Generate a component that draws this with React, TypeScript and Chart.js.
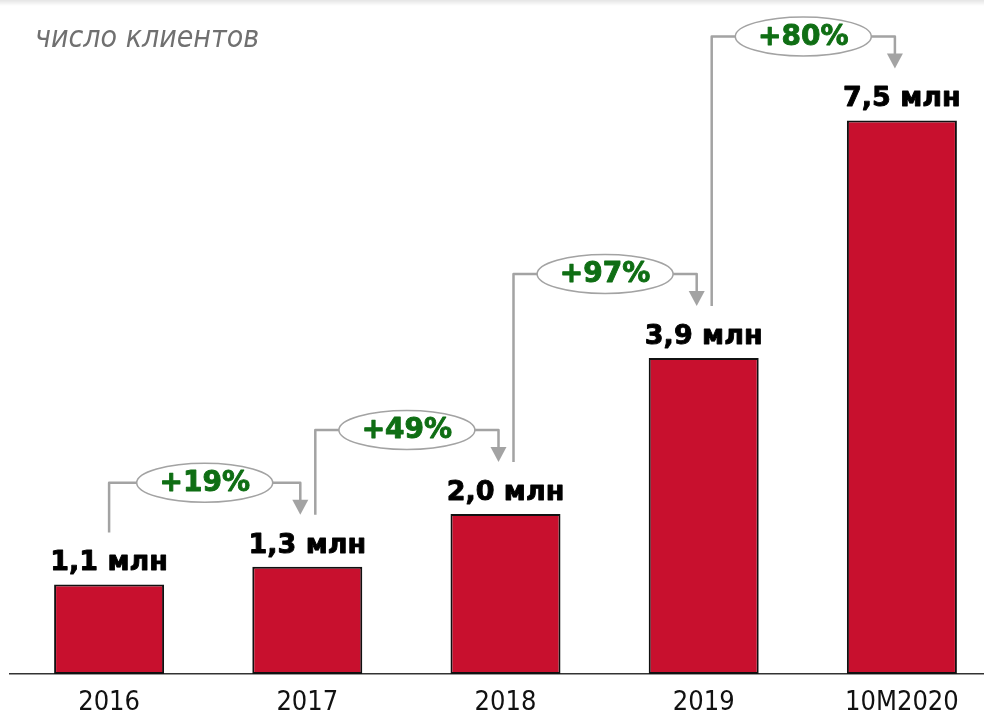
import React, { useEffect, useRef } from "react";
import { Chart, registerables } from "chart.js";

Chart.register(...registerables);

const TITLE = "число клиентов";
const categories = ["2016", "2017", "2018", "2019", "10M2020"];
const barValues = [1.12, 1.34, 2.0, 3.95, 6.92];
const valueLabels = ["1,1 млн", "1,3 млн", "2,0 млн", "3,9 млн", "7,5 млн"];
const growthLabels = ["+19%", "+49%", "+97%", "+80%"];

const Y_MAX = 8.425;
const BAR_RED = "#C8102E";
const GREEN = "#0F6E14";
const GRAY = "#A3A3A3";
const COND = "'DejaVu Sans Condensed', 'Liberation Sans', sans-serif";
const BOLD = "'DejaVu Sans', 'Liberation Sans', sans-serif";

function heavyText(ctx: CanvasRenderingContext2D, text: string, x: number, y: number, color: string) {
  ctx.fillStyle = color;
  ctx.strokeStyle = color;
  ctx.lineWidth = 0.9;
  ctx.lineJoin = "round";
  ctx.fillText(text, x, y);
  ctx.strokeText(text, x, y);
}

const overlayPlugin = {
  id: "overlay",
  afterDatasetsDraw(chart: any) {
    const ctx = chart.ctx as CanvasRenderingContext2D;
    const bars = chart.getDatasetMeta(0).data as any[];
    ctx.save();

    // title
    ctx.font = `italic 30px ${COND}`;
    ctx.fillStyle = "#707070";
    ctx.textAlign = "left";
    ctx.textBaseline = "alphabetic";
    ctx.fillText(TITLE, 35, 47);

    // value labels
    ctx.font = `bold 27px ${BOLD}`;
    ctx.textAlign = "center";
    bars.forEach((b, i) => {
      heavyText(ctx, valueLabels[i], b.x, b.y - 14, "#000");
    });

    // growth connectors
    for (let i = 0; i < growthLabels.length; i++) {
      const a = bars[i];
      const b = bars[i + 1];
      const x0 = a.x + (i === 0 ? 0 : 8);
      const y0 = a.y - 52;
      const x1 = b.x - 7;
      const yTip = b.y - 52;
      const yh = b.y - 84;

      ctx.strokeStyle = GRAY;
      ctx.lineWidth = 2.5;
      ctx.beginPath();
      ctx.moveTo(x0, y0);
      ctx.lineTo(x0, yh);
      ctx.lineTo(x1, yh);
      ctx.lineTo(x1, yTip - 12);
      ctx.stroke();

      ctx.fillStyle = GRAY;
      ctx.beginPath();
      ctx.moveTo(x1 - 8, yTip - 15);
      ctx.lineTo(x1 + 8, yTip - 15);
      ctx.lineTo(x1, yTip);
      ctx.closePath();
      ctx.fill();

      const cx = (x0 + x1) / 2;
      ctx.beginPath();
      ctx.ellipse(cx, yh, 68, 19.5, 0, 0, Math.PI * 2);
      ctx.fillStyle = "#fff";
      ctx.fill();
      ctx.lineWidth = 1.5;
      ctx.strokeStyle = GRAY;
      ctx.stroke();

      ctx.font = `bold 28px ${BOLD}`;
      ctx.textAlign = "center";
      ctx.textBaseline = "middle";
      heavyText(ctx, growthLabels[i], cx, yh + 1, GREEN);
      ctx.textBaseline = "alphabetic";
    }
    ctx.restore();
  },
};

export default function App() {
  const ref = useRef<HTMLCanvasElement>(null);

  useEffect(() => {
    if (!ref.current) return;
    const chart = new Chart(ref.current, {
      type: "bar",
      data: {
        labels: categories,
        datasets: [
          {
            data: barValues,
            backgroundColor: BAR_RED,
            borderColor: "#111",
            borderWidth: 2,
            borderSkipped: false,
            barPercentage: 0.555,
            categoryPercentage: 1,
          },
        ],
      },
      options: {
        animation: false,
        responsive: false,
        maintainAspectRatio: false,
        layout: { padding: { left: 10, right: 0, top: 0, bottom: 0 } },
        plugins: {
          legend: { display: false },
          tooltip: { enabled: false },
          title: { display: false },
        },
        scales: {
          x: {
            grid: { display: true, color: "rgba(0,0,0,0)", drawTicks: false },
            border: { display: true, color: "#333", width: 1.5 },
            ticks: {
              color: "#111",
              padding: 13,
              font: { family: COND, size: 27 },
            },
            afterFit: (scale: any) => {
              scale.height = 41;
            },
          },
          y: {
            display: false,
            min: 0,
            max: Y_MAX,
          },
        },
      },
      plugins: [overlayPlugin],
    });
    return () => chart.destroy();
  }, []);

  return (
    <div
      style={{
        position: "fixed",
        left: 0,
        top: 0,
        width: 984,
        height: 715,
        overflow: "hidden",
        background: "#fff",
      }}
    >
      <div
        style={{
          position: "absolute",
          left: 0,
          top: 0,
          width: 984,
          height: 6,
          background: "linear-gradient(to bottom, rgba(0,0,0,0.10), rgba(0,0,0,0))",
          zIndex: 1,
        }}
      />
      <canvas ref={ref} width={1001} height={715} style={{ width: 1001, height: 715, display: "block" }} />
    </div>
  );
}
